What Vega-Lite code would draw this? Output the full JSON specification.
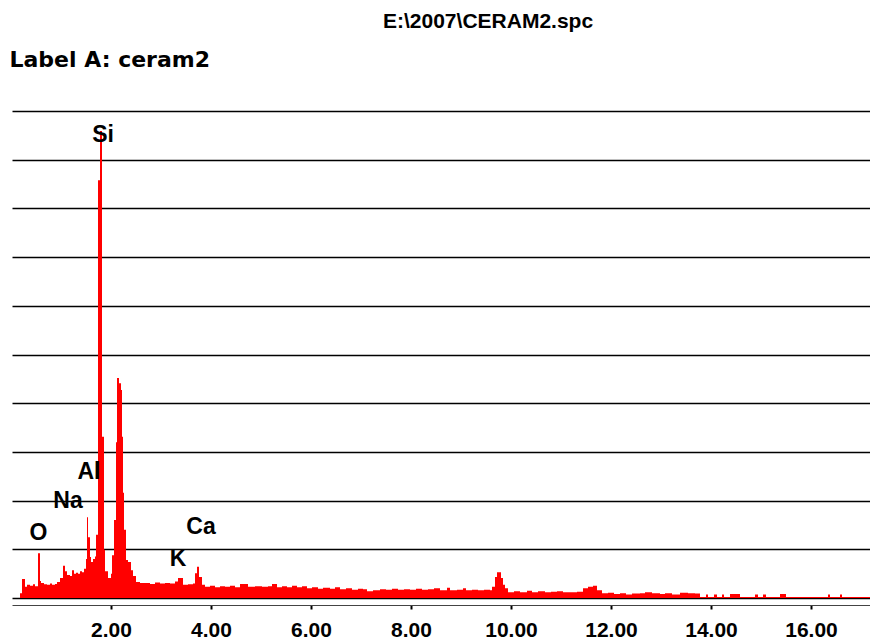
{
  "$schema": "https://vega.github.io/schema/vega-lite/v6.json",
  "width": 858,
  "height": 487,
  "autosize": {"type": "none"},
  "padding": {"left": 12, "top": 111, "right": 0, "bottom": 43},
  "background": "white",
  "title": {
    "text": "E:\\2007\\CERAM2.spc",
    "anchor": "start",
    "frame": "group",
    "dx": 371,
    "offset": 16,
    "font": "Liberation Sans",
    "fontSize": 21,
    "fontWeight": "bold",
    "color": "black"
  },
  "config": {
    "view": {"stroke": null},
    "axis": {"grid": false}
  },
  "datasets": {
    "spec": [
      {"e":0.18,"c":0.10},{"e":0.22,"c":0.39},{"e":0.28,"c":0.23},{"e":0.32,"c":0.27},{"e":0.38,"c":0.25},
      {"e":0.44,"c":0.28},{"e":0.48,"c":0.24},{"e":0.54,"c":0.92},{"e":0.58,"c":0.35},{"e":0.60,"c":0.31},
      {"e":0.66,"c":0.28},{"e":0.72,"c":0.27},{"e":0.78,"c":0.30},{"e":0.82,"c":0.27},{"e":0.88,"c":0.29},
      {"e":0.92,"c":0.33},{"e":0.98,"c":0.41},{"e":1.04,"c":0.66},{"e":1.08,"c":0.55},{"e":1.12,"c":0.47},
      {"e":1.18,"c":0.45},{"e":1.22,"c":0.57},{"e":1.26,"c":0.50},{"e":1.30,"c":0.52},{"e":1.34,"c":0.50},
      {"e":1.38,"c":0.55},{"e":1.42,"c":0.53},{"e":1.46,"c":0.60},{"e":1.50,"c":0.80},{"e":1.52,"c":1.66},
      {"e":1.54,"c":1.25},{"e":1.58,"c":0.84},{"e":1.60,"c":0.74},{"e":1.64,"c":0.80},{"e":1.68,"c":0.85},
      {"e":1.70,"c":1.30},{"e":1.74,"c":8.58},{"e":1.78,"c":9.59},{"e":1.82,"c":3.31},{"e":1.86,"c":0.99},
      {"e":1.88,"c":0.55},{"e":1.94,"c":0.41},{"e":2.00,"c":0.50},{"e":2.02,"c":0.88},{"e":2.06,"c":1.60},
      {"e":2.10,"c":3.20},{"e":2.12,"c":4.52},{"e":2.16,"c":4.41},{"e":2.20,"c":4.27},{"e":2.22,"c":3.31},
      {"e":2.24,"c":2.16},{"e":2.26,"c":1.40},{"e":2.30,"c":0.78},{"e":2.34,"c":0.74},{"e":2.40,"c":0.57},
      {"e":2.44,"c":0.45},{"e":2.50,"c":0.33},{"e":2.58,"c":0.31},{"e":2.68,"c":0.31},{"e":2.78,"c":0.29},
      {"e":2.88,"c":0.32},{"e":2.98,"c":0.30},{"e":3.08,"c":0.31},{"e":3.18,"c":0.30},{"e":3.28,"c":0.34},
      {"e":3.34,"c":0.41},{"e":3.44,"c":0.27},{"e":3.54,"c":0.28},{"e":3.64,"c":0.30},{"e":3.68,"c":0.51},
      {"e":3.72,"c":0.64},{"e":3.76,"c":0.43},{"e":3.82,"c":0.27},{"e":3.88,"c":0.23},{"e":3.98,"c":0.25},
      {"e":4.08,"c":0.22},{"e":4.18,"c":0.24},{"e":4.28,"c":0.23},{"e":4.38,"c":0.25},{"e":4.48,"c":0.22},
      {"e":4.58,"c":0.29},{"e":4.74,"c":0.23},{"e":4.88,"c":0.24},{"e":5.02,"c":0.23},{"e":5.14,"c":0.24},
      {"e":5.22,"c":0.29},{"e":5.32,"c":0.22},{"e":5.42,"c":0.24},{"e":5.52,"c":0.22},{"e":5.62,"c":0.25},
      {"e":5.72,"c":0.22},{"e":5.82,"c":0.24},{"e":5.92,"c":0.20},{"e":6.02,"c":0.22},{"e":6.14,"c":0.19},
      {"e":6.24,"c":0.21},{"e":6.38,"c":0.19},{"e":6.48,"c":0.22},{"e":6.58,"c":0.18},{"e":6.70,"c":0.20},
      {"e":6.82,"c":0.17},{"e":6.94,"c":0.19},{"e":7.04,"c":0.18},{"e":7.12,"c":0.14},{"e":7.24,"c":0.16},
      {"e":7.38,"c":0.18},{"e":7.50,"c":0.17},{"e":7.62,"c":0.19},{"e":7.74,"c":0.17},{"e":7.86,"c":0.18},
      {"e":7.98,"c":0.17},{"e":8.10,"c":0.19},{"e":8.22,"c":0.17},{"e":8.34,"c":0.18},{"e":8.46,"c":0.20},
      {"e":8.58,"c":0.16},{"e":8.72,"c":0.21},{"e":8.78,"c":0.16},{"e":8.92,"c":0.17},{"e":9.04,"c":0.20},
      {"e":9.10,"c":0.16},{"e":9.22,"c":0.17},{"e":9.34,"c":0.16},{"e":9.46,"c":0.17},{"e":9.58,"c":0.16},
      {"e":9.62,"c":0.23},{"e":9.68,"c":0.43},{"e":9.72,"c":0.53},{"e":9.80,"c":0.41},{"e":9.84,"c":0.27},
      {"e":9.88,"c":0.20},{"e":9.94,"c":0.12},{"e":10.06,"c":0.14},{"e":10.18,"c":0.12},{"e":10.32,"c":0.15},
      {"e":10.42,"c":0.12},{"e":10.54,"c":0.14},{"e":10.68,"c":0.12},{"e":10.80,"c":0.13},{"e":10.92,"c":0.14},
      {"e":11.04,"c":0.12},{"e":11.18,"c":0.12},{"e":11.32,"c":0.13},{"e":11.44,"c":0.20},{"e":11.54,"c":0.23},
      {"e":11.64,"c":0.25},{"e":11.72,"c":0.16},{"e":11.82,"c":0.10},{"e":11.94,"c":0.11},{"e":12.06,"c":0.08},
      {"e":12.18,"c":0.10},{"e":12.30,"c":0.07},{"e":12.42,"c":0.09},{"e":12.58,"c":0.10},{"e":12.68,"c":0.12},
      {"e":12.82,"c":0.10},{"e":12.98,"c":0.08},{"e":13.08,"c":0.10},{"e":13.22,"c":0.07},{"e":13.38,"c":0.11},
      {"e":13.54,"c":0.10},{"e":13.68,"c":0.09},{"e":13.78,"c":0.02},{"e":13.90,"c":0.07},{"e":13.94,"c":0.02},
      {"e":14.06,"c":0.07},{"e":14.12,"c":0.02},{"e":14.22,"c":0.07},{"e":14.26,"c":0.02},{"e":14.38,"c":0.08},
      {"e":14.58,"c":0.02},{"e":14.88,"c":0.07},{"e":14.94,"c":0.02},{"e":15.04,"c":0.07},{"e":15.10,"c":0.02},
      {"e":15.38,"c":0.08},{"e":15.50,"c":0.02},{"e":16.34,"c":0.07},{"e":16.38,"c":0.02},{"e":16.58,"c":0.07},
      {"e":16.62,"c":0.02},{"e":17.18,"c":0.02}
    ],
    "labels": [
      {"e":1.84,"c":9.51,"t":"Si"},
      {"e":1.56,"c":2.59,"t":"Al"},
      {"e":1.14,"c":1.99,"t":"Na"},
      {"e":0.55,"c":1.33,"t":"O"},
      {"e":3.80,"c":1.46,"t":"Ca"},
      {"e":3.34,"c":0.80,"t":"K"}
    ]
  },
  "layer": [
    {
      "data": {"name": "spec"},
      "mark": {"type": "area", "interpolate": "step-after", "color": "#ff0000", "clip": true},
      "encoding": {
        "x": {
          "field": "e", "type": "quantitative",
          "scale": {"domain": [0.02, 17.18], "nice": false, "zero": false},
          "axis": {
            "values": [2, 4, 6, 8, 10, 12, 14, 16],
            "format": ".2f",
            "title": null,
            "offset": 7,
            "domainColor": "#444444",
            "domainWidth": 1,
            "tickColor": "black",
            "tickSize": 4,
            "tickWidth": 2,
            "labelFont": "Liberation Sans",
            "labelFontSize": 21,
            "labelFontWeight": "bold",
            "labelColor": "black",
            "labelPadding": 10,
            "grid": false
          }
        },
        "y": {
          "field": "c", "type": "quantitative",
          "scale": {"domain": [0, 10], "nice": false},
          "axis": {
            "values": [0, 1, 2, 3, 4, 5, 6, 7, 8, 9, 10],
            "grid": true,
            "gridColor": "black",
            "gridWidth": 1.5,
            "gridOpacity": 1,
            "labels": false,
            "ticks": false,
            "domain": false,
            "title": "Label A: ceram2",
            "titleAngle": 0,
            "titleAlign": "left",
            "titleBaseline": "alphabetic",
            "titleX": -3,
            "titleY": -45,
            "titleFont": "DejaVu Sans",
            "titleFontSize": 22,
            "titleFontWeight": "bold",
            "titleColor": "black"
          }
        }
      }
    },
    {
      "data": {"name": "labels"},
      "mark": {"type": "text", "font": "Liberation Sans", "fontSize": 23, "fontWeight": "bold", "color": "black", "align": "center", "baseline": "middle"},
      "encoding": {
        "x": {"field": "e", "type": "quantitative"},
        "y": {"field": "c", "type": "quantitative"},
        "text": {"field": "t", "type": "nominal"}
      }
    }
  ]
}
